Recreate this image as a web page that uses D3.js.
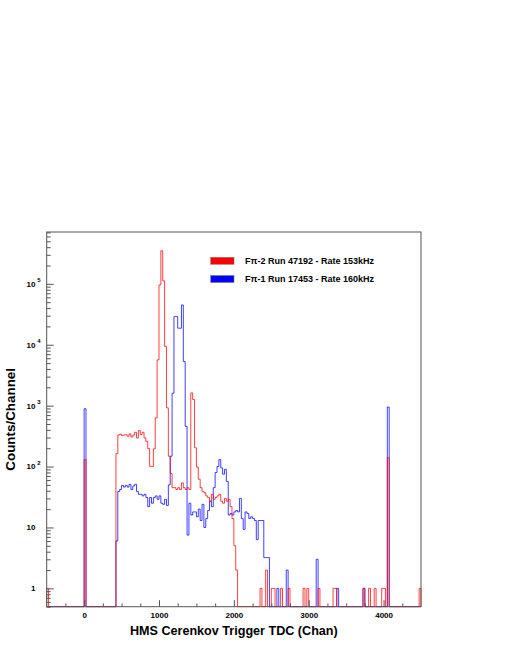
<!DOCTYPE html>
<html><head><meta charset="utf-8">
<script src="https://cdn.jsdelivr.net/npm/d3@7"></script>
<style>
body{margin:0;background:#fff;}
svg{display:block;}
text{font-family:"Liberation Sans",Arial,Helvetica,sans-serif;font-weight:bold;fill:#000;}
</style>
</head><body>
<svg id="c" width="505" height="654"></svg>
<script>
// ---- data ----
const binStart = -500, binWidth = 25, nBins = 200;

const redChan = [-500,0,425,450,475,500,525,550,575,600,625,650,675,700,725,750,775,800,825,850,875,900,925,950,975,
  1000,1025,1050,1075,1100,1125,1150,1175,1200,1225,1250,1275,1300,1325,1350,1375,1400,1425,1450,1475,1500,1525,1550,1575,
  1600,1625,1650,1675,1700,1725,1750,1775,1800,1825,1850,1875,1900,1925,1950,1975,2000,2025,
  2350,2425,2500,2525,2625,2725,2925,2975,3125,3325,3350,3725,3800,3875,3975,4000,4050,4475];
const redCount = [1,130,163,330,340,322,330,333,314,344,305,328,365,295,390,336,365,295,260,197,100,100,195,630,5650,
  96000,350000,112000,9400,920,148,77,45,45,42,45,42,54,45,42,45,42,1620,1260,203,98,62,45,39,
  37,33,31,27,35,29,31,33,35,27,25,30,27,29,22,14,5,2,
  1,2,1,1,1,1,1,1,1,1,1,1,1,1,1,1,140,1];

const blueChan = [0,425,450,475,500,525,550,575,600,625,650,675,700,725,750,775,800,825,850,875,900,925,950,975,
  1000,1025,1050,1075,1100,1125,1150,1175,1200,1225,1250,1275,1300,1325,1350,1375,1400,1425,1450,1475,1500,1525,1550,1575,
  1600,1625,1650,1675,1700,1725,1750,1775,1800,1825,1850,1875,1900,1925,1950,1975,2000,2025,2050,2075,2100,2125,2150,2175,
  2200,2225,2250,2275,2300,2325,2350,2375,2400,2425,2450,2575,2700,3100,3375,3725,4050];
const blueCount = [890,6,39,42,49,46,49,46,51,42,48,51,39,35,35,33,35,31,22,31,25,31,33,29,
  33,25,24,29,23,50,148,1600,29000,29000,18700,18700,45000,5300,458,7.5,25,16,18,18,15,20,13,24,
  10,14,19,27,22,45,80,100,130,95,75,90,57,16,17,16,18,19,18,30,14,9.3,18,17,
  14,15,14,13,6.3,13,13,13,3.2,3.2,3.2,1,2,3,1,1,950];

const seriesNames = ["F\u03c0-2 Run 47192 - Rate 153kHz", "F\u03c0-1 Run 17453 - Rate 160kHz"];
const seriesColors = ["#ff0000", "#0000ff"];

const xTickValues = [0, 1000, 2000, 3000, 4000];
const xTickLabels = ["0", "1000", "2000", "3000", "4000"];
const yTickValues = [1, 10, 100, 1000, 10000, 100000];
const yTickBase = ["1", "10", "10", "10", "10", "10"];
const yTickExp = ["", "", "2", "3", "4", "5"];

const xTitle = "HMS Cerenkov Trigger TDC (Chan)";
const yTitle = "Counts/Channel";

// ---- layout ----
const L = 46.7, R = 421, T = 232, B = 606.7;
const svg = d3.select("#c");

const x = d3.scaleLinear().domain([binStart, binStart + nBins * binWidth]).range([L, R]);
const y = d3.scaleLog().domain([0.5, 7.1e5]).range([B, T]).clamp(true);

function fullCounts(chan, cnt) {
  const a = new Array(nBins).fill(0);
  chan.forEach((c, i) => { a[Math.round((c - binStart) / binWidth)] = cnt[i]; });
  return a;
}
const redFull = fullCounts(redChan, redCount);
const blueFull = fullCounts(blueChan, blueCount);

function stepPath(counts) {
  const p = d3.path();
  const yb = y.range()[0];
  p.moveTo(x(binStart), yb);
  counts.forEach((c, i) => {
    const lo = binStart + i * binWidth, hi = lo + binWidth;
    const yy = c > 0 ? y(c) : yb;
    p.lineTo(x(lo), yy);
    p.lineTo(x(hi), yy);
  });
  p.lineTo(x(binStart + nBins * binWidth), yb);
  return p.toString();
}

svg.append("defs").append("clipPath").attr("id", "clip")
  .append("rect").attr("x", L - 1).attr("y", T).attr("width", R - L + 2).attr("height", B - T + 1);

const g = svg.append("g").attr("clip-path", "url(#clip)");
g.append("path").attr("d", stepPath(blueFull)).attr("fill", "none")
  .attr("stroke", seriesColors[1]).attr("stroke-opacity", 0.75).attr("stroke-width", 1);
g.append("path").attr("d", stepPath(redFull)).attr("fill", "none")
  .attr("stroke", seriesColors[0]).attr("stroke-opacity", 0.75).attr("stroke-width", 1);

// frame
svg.append("rect").attr("x", L).attr("y", T).attr("width", R - L).attr("height", B - T)
  .attr("fill", "none").attr("stroke", "#555").attr("stroke-width", 1);

// x axis ticks
const xMinor = d3.range(-250, 4500, 250).filter(v => v % 1000 !== 0);
const xAxisMinor = d3.axisBottom(x).tickValues(xMinor).tickSize(-3.3).tickFormat("");
const xAxisMajor = d3.axisBottom(x).tickValues(xTickValues).tickSize(-6.5).tickPadding(6)
  .tickFormat((d, i) => xTickLabels[i]);
const gxm = svg.append("g").attr("transform", `translate(0,${B})`).call(xAxisMinor);
const gx = svg.append("g").attr("transform", `translate(0,${B})`).call(xAxisMajor);
[gxm, gx].forEach(a => { a.select(".domain").remove(); a.selectAll("line").attr("stroke", "#555"); });
gx.selectAll("text").style("font-size", "8px").style("font-weight", "bold")
  .style("font-family", '"Liberation Sans",Arial,sans-serif').attr("fill", "#000");

// y axis ticks
const yMinor = [];
for (let e = -1; e <= 5; e++) for (let m = 2; m <= 9; m++) {
  const v = m * Math.pow(10, e);
  if (v >= 0.5 && v <= 7.1e5) yMinor.push(v);
}
const yAxisMinor = d3.axisLeft(y).tickValues(yMinor).tickSize(-4).tickFormat("");
const yAxisMajor = d3.axisLeft(y).tickValues(yTickValues).tickSize(-7).tickFormat("");
const gym = svg.append("g").attr("transform", `translate(${L},0)`).call(yAxisMinor);
const gy = svg.append("g").attr("transform", `translate(${L},0)`).call(yAxisMajor);
[gym, gy].forEach(a => { a.select(".domain").remove(); a.selectAll("line").attr("stroke", "#555"); });

// y tick labels (base + superscript)
const yl = svg.append("g");
yTickValues.forEach((v, i) => {
  yl.append("text").attr("x", 35.5).attr("y", y(v)).attr("dy", "0.36em")
    .attr("text-anchor", "end").style("font-size", "8px").text(yTickBase[i]);
  if (yTickExp[i]) {
    yl.append("text").attr("x", 37.3).attr("y", y(v) - 1.5)
      .style("font-size", "6px").text(yTickExp[i]);
  }
});

// axis titles
svg.append("text").attr("x", (L + R) / 2).attr("y", 635).attr("text-anchor", "middle")
  .style("font-size", "12.6px").text(xTitle);
svg.append("text").attr("transform", `translate(15,${(T + B) / 2}) rotate(-90)`)
  .attr("text-anchor", "middle").style("font-size", "13.4px").text(yTitle);

// legend
const leg = svg.append("g");
seriesNames.forEach((name, i) => {
  const cy = 260.8 + i * 18.2;
  leg.append("rect").attr("x", 210.7).attr("y", cy - 3.5).attr("width", 23.3).attr("height", 7)
    .attr("fill", seriesColors[i]).attr("stroke", "#777").attr("stroke-width", 0.5);
  leg.append("text").attr("x", 245).attr("y", cy).attr("dy", "0.35em")
    .style("font-size", "9px").text(name);
});
</script>
</body></html>
